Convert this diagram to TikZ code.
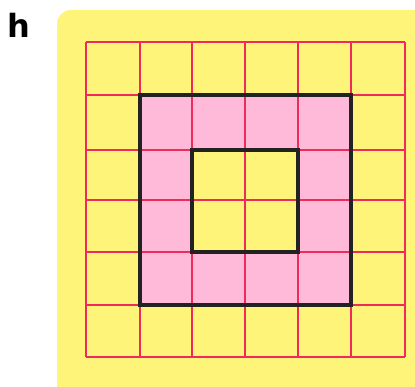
\documentclass[tikz,border=0pt]{standalone}
\usepackage{fontspec}
\newfontfamily\labelfont{DejaVu Sans}
\definecolor{bgyellow}{HTML}{FFF47A}
\definecolor{cellpink}{HTML}{FFB9D9}
\definecolor{gridred}{HTML}{F02A5A}
\definecolor{edgeblack}{HTML}{222222}
\tikzset{
  gridline/.style={draw=gridred, line width=2pt},
  outline/.style={draw=edgeblack, line width=3.2pt},
  paper/.style={fill=bgyellow, rounded corners=14pt},
}
\begin{document}
\begin{tikzpicture}[x=1pt,y=-1pt]
\useasboundingbox (0,0) rectangle (415,387);
\clip (0,0) rectangle (415,387);
\fill[white] (0,0) rectangle (415,387);
\fill[paper] (57,10) rectangle (440,410);
\node[font=\labelfont\bfseries, scale=3.2, inner sep=0pt] (lbl) at (18.5,25) {h};
% pink ring
\fill[cellpink, even odd rule] (140,95) rectangle (351,305) (192,150) rectangle (298,252);
% red grid
\foreach \x in {86,140,192,245,298,351,405} \draw[gridline] (\x,42) -- (\x,357);
\foreach \y in {42,95,150,200,252,305,357} \draw[gridline] (86,\y) -- (405,\y);
% black outlines
\draw[outline] (140,95) rectangle (351,305);
\draw[outline] (192,150) rectangle (298,252);
\end{tikzpicture}
\end{document}
